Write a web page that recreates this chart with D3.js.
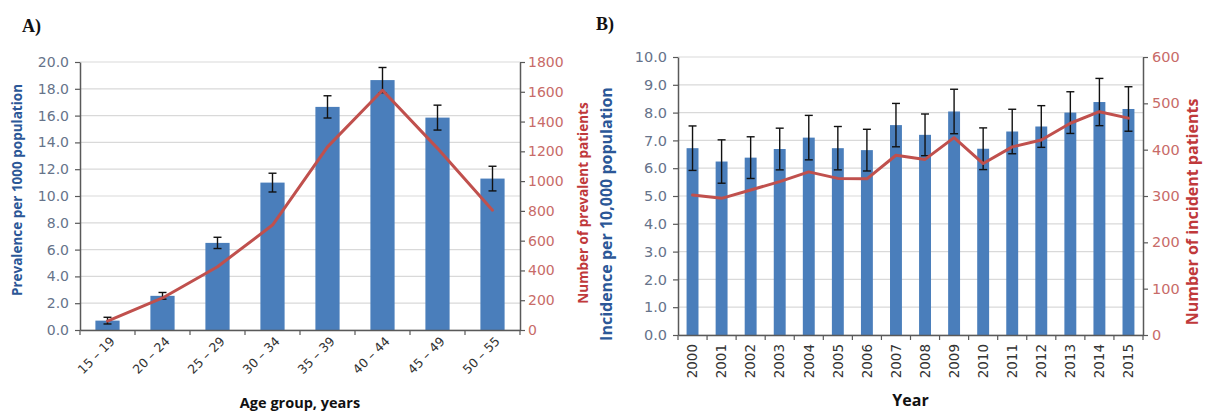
<!DOCTYPE html>
<html>
<head>
<meta charset="utf-8">
<script src="https://cdn.jsdelivr.net/npm/d3@7"></script>
<style>
  html, body { margin: 0; padding: 0; background: #fff; }
  svg { display: block; font-family: "Open Sans", "Noto Sans", sans-serif; }
</style>
</head>
<body>
<svg id="chart" width="1207" height="412"></svg>
<script>
// Panel A: prevalence by age group
const ageGroups = ["15 – 19", "20 – 24", "25 – 29", "30 – 34", "35 – 39", "40 – 44", "45 – 49", "50 – 55"];
const prevalence = [0.7, 2.55, 6.5, 11.0, 16.65, 18.65, 15.85, 11.3];
const prevalenceErr = [0.25, 0.25, 0.42, 0.7, 0.83, 0.94, 0.93, 0.92];
const prevalentPatients = [60, 215, 425, 705, 1230, 1610, 1220, 805];
const prevTicks = [0, 2, 4, 6, 8, 10, 12, 14, 16, 18, 20];
const prevCountTicks = [0, 200, 400, 600, 800, 1000, 1200, 1400, 1600, 1800];

// Panel B: incidence by year
const years = ["2000", "2001", "2002", "2003", "2004", "2005", "2006", "2007",
               "2008", "2009", "2010", "2011", "2012", "2013", "2014", "2015"];
const incidence = [6.72, 6.24, 6.38, 6.69, 7.1, 6.72, 6.65, 7.55, 7.2, 8.04, 6.7, 7.32, 7.5, 8.0, 8.38, 8.13];
const incidenceErr = [0.8, 0.78, 0.75, 0.75, 0.8, 0.78, 0.75, 0.78, 0.75, 0.8, 0.75, 0.8, 0.75, 0.75, 0.85, 0.8];
const incidentPatients = [302, 295, 313, 331, 352, 338, 337, 388, 379, 426, 370, 406, 421, 457, 482, 468];
const incTicks = [0, 1, 2, 3, 4, 5, 6, 7, 8, 9, 10];
const incCountTicks = [0, 100, 200, 300, 400, 500, 600];

const BAR = "#4a7ebb";
const LINE = "#c0504d";
const LEFT_TICK = "#66738a";
const LEFT_TITLE = "#2b5797";
const RIGHT_TICK = "#c86b68";
const RIGHT_TITLE = "#c0393b";
const AXIS = "#595959";
const GRID = "#d9d9d9";
const TICK_FONT = "'DejaVu Sans', Verdana, sans-serif";

const svg = d3.select("#chart");

function panel(cfg) {
  const g = svg.append("g");
  const x = d3.scaleBand().domain(cfg.cats).range([cfg.left, cfg.right]).paddingInner(0).paddingOuter(0);
  const yL = d3.scaleLinear().domain(cfg.leftDomain).range([cfg.bottom, cfg.top]);
  const yR = d3.scaleLinear().domain(cfg.rightDomain).range([cfg.bottom, cfg.top]);

  // horizontal gridlines
  g.append("g").selectAll("line").data(cfg.leftTicks).join("line")
    .attr("x1", cfg.left).attr("x2", cfg.right)
    .attr("y1", d => yL(d)).attr("y2", d => yL(d))
    .attr("stroke", GRID).attr("stroke-width", 1.2);

  // bars
  const bw = x.bandwidth() * cfg.barFrac;
  g.append("g").selectAll("rect").data(cfg.bars).join("rect")
    .attr("x", (d, i) => x(cfg.cats[i]) + (x.bandwidth() - bw) / 2)
    .attr("width", bw)
    .attr("y", d => yL(d))
    .attr("height", d => yL(0) - yL(d))
    .attr("fill", BAR);

  // error bars
  const eg = g.append("g").attr("stroke", "#111").attr("stroke-width", 1.4);
  cfg.bars.forEach((v, i) => {
    const cx = x(cfg.cats[i]) + x.bandwidth() / 2;
    const e = cfg.err[i];
    eg.append("line").attr("x1", cx).attr("x2", cx).attr("y1", yL(v + e)).attr("y2", yL(v - e));
    eg.append("line").attr("x1", cx - 4).attr("x2", cx + 4).attr("y1", yL(v + e)).attr("y2", yL(v + e));
    eg.append("line").attr("x1", cx - 4).attr("x2", cx + 4).attr("y1", yL(v - e)).attr("y2", yL(v - e));
  });

  // count line
  const line = d3.line()
    .x((d, i) => x(cfg.cats[i]) + x.bandwidth() / 2)
    .y(d => yR(d));
  g.append("path").datum(cfg.line).attr("d", line)
    .attr("fill", "none").attr("stroke", LINE).attr("stroke-width", 3)
    .attr("stroke-linejoin", "round").attr("stroke-linecap", "round");

  // left axis
  const la = g.append("g").attr("transform", `translate(${cfg.left},0)`)
    .call(d3.axisLeft(yL).tickValues(cfg.leftTicks).tickFormat(d3.format(".1f")).tickSize(5).tickPadding(cfg.leftPad).tickSizeOuter(0));
  la.select(".domain").attr("stroke", AXIS).attr("stroke-width", 1.5);
  la.selectAll(".tick line").attr("stroke", AXIS).attr("stroke-width", 1.2);
  la.selectAll(".tick text").attr("fill", LEFT_TICK).attr("font-size", cfg.tickSize).attr("font-family", TICK_FONT);

  // right axis
  const ra = g.append("g").attr("transform", `translate(${cfg.right},0)`)
    .call(d3.axisRight(yR).tickValues(cfg.rightTicks).tickFormat(d3.format("d")).tickSize(5).tickPadding(cfg.rightPad).tickSizeOuter(0));
  ra.select(".domain").attr("stroke", AXIS).attr("stroke-width", 1.5);
  ra.selectAll(".tick line").attr("stroke", AXIS).attr("stroke-width", 1.2);
  ra.selectAll(".tick text").attr("fill", RIGHT_TICK).attr("font-size", cfg.tickSize).attr("font-family", TICK_FONT);

  // bottom axis with ticks at category boundaries
  const ba = g.append("g").attr("transform", `translate(0,${cfg.bottom})`)
    .call(d3.axisBottom(x).tickSize(0).tickPadding(6));
  ba.select(".domain").attr("stroke", AXIS).attr("stroke-width", 1.5);
  ba.selectAll(".tick line").remove();
  const bounds = cfg.cats.map(c => x(c)).concat([cfg.right]);
  ba.append("g").selectAll("line").data(bounds).join("line")
    .attr("x1", d => d).attr("x2", d => d).attr("y1", 0).attr("y2", 5)
    .attr("stroke", AXIS).attr("stroke-width", 1.2);
  const tt = ba.selectAll(".tick text").attr("fill", "#333").attr("font-size", cfg.xTickSize).attr("font-family", TICK_FONT);
  if (cfg.rotate === -45) {
    tt.attr("text-anchor", "end").attr("dy", "0.35em")
      .attr("transform", "translate(5,9) rotate(-45)").attr("x", 0).attr("y", 0);
  } else {
    tt.attr("text-anchor", "end").attr("dy", "0.35em")
      .attr("transform", "translate(0,9) rotate(-90)").attr("x", 0).attr("y", 0);
  }

  // axis titles
  g.append("text")
    .attr("transform", `translate(${cfg.leftTitleX},${cfg.leftTitleY}) rotate(-90)`)
    .attr("text-anchor", "middle").attr("dy", "0.35em")
    .attr("font-weight", "bold").attr("font-size", cfg.titleSize).attr("fill", LEFT_TITLE)
    .text(cfg.leftTitle);
  g.append("text")
    .attr("transform", `translate(${cfg.rightTitleX},${cfg.rightTitleY}) rotate(-90)`)
    .attr("text-anchor", "middle").attr("dy", "0.35em")
    .attr("font-weight", "bold").attr("font-size", cfg.titleSize).attr("fill", RIGHT_TITLE)
    .text(cfg.rightTitle);
  g.append("text")
    .attr("x", (cfg.left + cfg.right) / 2).attr("y", cfg.xTitleY)
    .attr("text-anchor", "middle")
    .attr("font-weight", "bold").attr("font-size", cfg.xTitleSize).attr("fill", "#111")
    .text(cfg.xTitle);

  // panel letter
  g.append("text")
    .attr("x", cfg.letterX).attr("y", cfg.letterY)
    .attr("font-family", "'Liberation Serif', 'DejaVu Serif', serif")
    .attr("font-weight", "bold").attr("font-size", 18).attr("fill", "#111")
    .text(cfg.letter);
}

panel({
  cats: ageGroups, bars: prevalence, err: prevalenceErr, line: prevalentPatients,
  left: 80, right: 520, top: 62, bottom: 330,
  leftDomain: [0, 20], rightDomain: [0, 1800],
  leftTicks: prevTicks, rightTicks: prevCountTicks,
  barFrac: 0.44, leftPad: 6, rightPad: 3,
  rotate: -45, tickSize: 14, xTickSize: 12.5, titleSize: 13.5, xTitleSize: 14.5,
  leftTitle: "Prevalence per 1000 population", leftTitleX: 17, leftTitleY: 190,
  rightTitle: "Number of prevalent patients", rightTitleX: 583, rightTitleY: 203,
  xTitle: "Age group, years", xTitleY: 408,
  letter: "A)", letterX: 22, letterY: 32
});

panel({
  cats: years, bars: incidence, err: incidenceErr, line: incidentPatients,
  left: 678, right: 1143, top: 57, bottom: 335,
  leftDomain: [0, 10], rightDomain: [0, 600],
  leftTicks: incTicks, rightTicks: incCountTicks,
  barFrac: 0.41, leftPad: 6, rightPad: 4,
  rotate: -90, tickSize: 14.5, xTickSize: 13.5, titleSize: 16, xTitleSize: 16,
  leftTitle: "Incidence per 10,000 population", leftTitleX: 606, leftTitleY: 214,
  rightTitle: "Number of incident patients", rightTitleX: 1192, rightTitleY: 212,
  xTitle: "Year", xTitleY: 406,
  letter: "B)", letterX: 596, letterY: 30
});
</script>
</body>
</html>
